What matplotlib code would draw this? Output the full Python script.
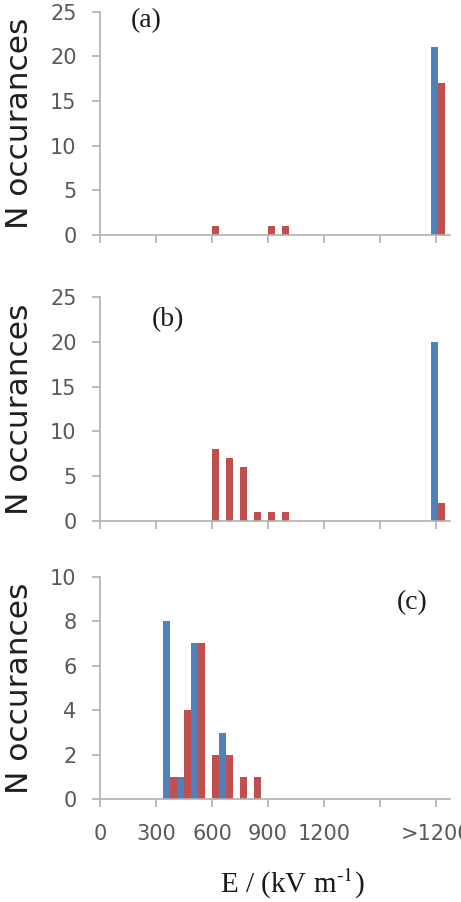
import numpy as np
import matplotlib
matplotlib.use('Agg')
import matplotlib.pyplot as plt

plt.rcParams['font.family'] = ['DejaVu Sans']
plt.rcParams['mathtext.fontset'] = 'stix'

# bin centres in kV/m; 1810 is the slot used for the '>1200' bin
e_bins = [375, 450, 525, 600, 675, 750, 825, 900, 975, 1810]

a_blue = [0, 0, 0, 0, 0, 0, 0, 0, 0, 21]
a_red = [0, 0, 0, 1, 0, 0, 0, 1, 1, 17]
b_blue = [0, 0, 0, 0, 0, 0, 0, 0, 0, 20]
b_red = [0, 0, 0, 8, 7, 6, 1, 1, 1, 2]
c_blue = [8, 1, 7, 0, 3, 0, 0, 0, 0, 0]
c_red = [1, 4, 7, 2, 2, 1, 1, 0, 0, 0]

xticks = [0, 300, 600, 900, 1200, 1500, 1800]
xticklabels = ['0', '300', '600', '900', '1200', '', '>1200']

blue = '#4F81BD'
red = '#C0504D'
axcol = '#B0B0B0'
txtcol = '#595959'

fig = plt.figure(figsize=(4.61, 9.02), dpi=100)
left, width = 100/461, 350/461
ax_a = fig.add_axes([left, 1 - 235/902, width, 223.3/902])
ax_b = fig.add_axes([left, 1 - 520.7/902, width, 223.3/902])
ax_c = fig.add_axes([left, 1 - 799.3/902, width, 222.6/902])

x = np.array(e_bins)
bw = 37.5

panels = [(ax_a, a_blue, a_red, 25, 5, '(a)', 246, 24.0),
          (ax_b, b_blue, b_red, 25, 5, '(b)', 364, 22.5),
          (ax_c, c_blue, c_red, 10, 2, '(c)', 1674, 8.85)]

for ax, yb, yr, ymax, ystep, lab, lx, ly in panels:
    ax.bar(x - bw/2, yb, width=bw, color=blue, linewidth=0)
    ax.bar(x + bw/2, yr, width=bw, color=red, linewidth=0)
    ax.set_xlim(0, 1875)
    ax.set_ylim(0, ymax)
    ax.set_yticks(np.arange(0, ymax + 1, ystep))
    ax.set_xticks(xticks)
    for s in ['top', 'right']:
        ax.spines[s].set_visible(False)
    for s in ['left', 'bottom']:
        ax.spines[s].set_color(axcol)
        ax.spines[s].set_linewidth(1.2)
    ax.tick_params(axis='both', colors=axcol, width=1.2, length=5.8,
                   labelcolor=txtcol, labelsize=15)
    ax.tick_params(axis='y', pad=11)
    ax.tick_params(axis='x', pad=12)
    ax.set_ylabel('N occurances', fontsize=22.5, color='#1f1f1f')
    ax.yaxis.label.set_va('center')
    ax.yaxis.set_label_coords(-0.231, 0.5)
    ax.text(lx, ly, lab, fontsize=20, family='Liberation Serif',
            ha='center', va='center', color='#1a1a1a')
    if ax is ax_c:
        ax.set_xticklabels(xticklabels)
    else:
        ax.set_xticklabels([])

ax_c.set_xlabel(r'E / (kV m$^{\text{-}1}$)', fontsize=21,
                family='Liberation Serif', color='#1a1a1a')
ax_c.xaxis.label.set_va('center')
ax_c.xaxis.set_label_coords(0.549, -0.38)

fig.savefig('out.png', dpi=100)
